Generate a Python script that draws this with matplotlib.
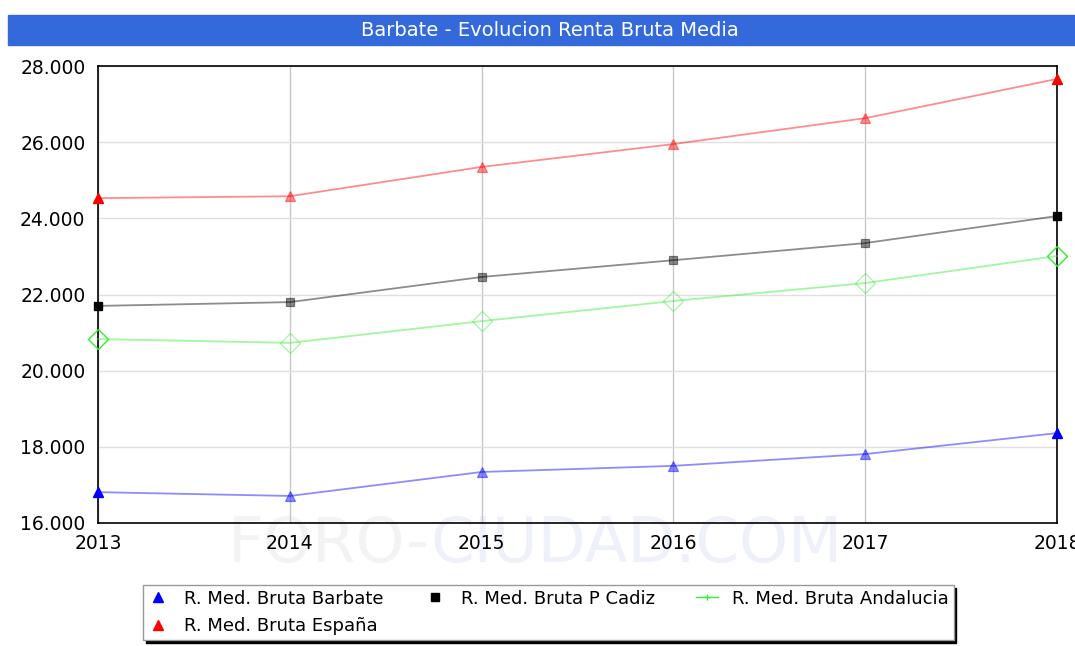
import matplotlib.pyplot as plt
from matplotlib.lines import Line2D
from matplotlib.patches import Rectangle
from matplotlib.ticker import FuncFormatter

years = [2013, 2014, 2015, 2016, 2017, 2018]
barbate = [16810, 16710, 17340, 17500, 17810, 18360]
cadiz = [21700, 21800, 22460, 22900, 23350, 24060]
andalucia = [20830, 20730, 21300, 21830, 22300, 23010]
espana = [24530, 24580, 25350, 25950, 26630, 27660]

labels = ['R. Med. Bruta Barbate', 'R. Med. Bruta P Cadiz',
          'R. Med. Bruta Andalucia', 'R. Med. Bruta España']

fig = plt.figure(figsize=(10.75, 6.46), dpi=100)

# title band
fig.patches.append(Rectangle((8/1075, 601/646), 1 - 8/1075, 30/646,
                             transform=fig.transFigure, color='#3469dc', zorder=0))
fig.text(550/1075, 615/646, 'Barbate - Evolucion Renta Bruta Media', color='white',
         ha='center', va='center', fontsize=14, family='DejaVu Sans')

# watermark, kept under the axes
fig.text(430/1075, 101/646, 'FORO-', color='#f3f3f3', ha='right', va='center',
         fontsize=45, zorder=-2)
fig.text(430/1075, 101/646, 'CIUDAD.COM', color='#eef0fa', ha='left', va='center',
         fontsize=45, zorder=-2)

ax = fig.add_axes([98/1075, 123/646, 959/1075, 457/646])
ax.set_facecolor('none')

series = [
    (barbate, 'blue', '^', 'full', 7),
    (cadiz, 'black', 's', 'full', 5.5),
    (andalucia, '#33ee33', 'D', 'none', 10),
    (espana, 'red', '^', 'full', 7),
]
for vals, col, mk, fill, size in series:
    ax.plot(years, vals, color=col, alpha=0.45, lw=1.3, marker=mk, ms=size,
            mew=0.9, fillstyle=fill, clip_on=False, zorder=3)
    ax.plot([years[0], years[-1]], [vals[0], vals[-1]], ls='none', color=col,
            marker=mk, ms=size, mew=0.9, fillstyle=fill, clip_on=False, zorder=4)

ax.set_xlim(2013, 2018)
ax.set_ylim(16000, 28000)
ax.set_xticks(years)
ax.set_yticks(range(16000, 28001, 2000))
ax.yaxis.set_major_formatter(FuncFormatter(lambda v, p: f'{int(v):,}'.replace(',', '.')))
ax.tick_params(length=0, labelsize=13.5, pad=9)
ax.tick_params(axis='x', pad=8)
ax.xaxis.grid(True, color='#c8c8c8', lw=1)
ax.yaxis.grid(True, color='#e0e0e0', lw=1)
ax.set_axisbelow(True)
for s in ax.spines.values():
    s.set_color('black')
    s.set_linewidth(1.2)

handles = [
    Line2D([], [], ls='none', color='blue', marker='^', ms=7),
    Line2D([], [], ls='none', color='red', marker='^', ms=7),
    Line2D([], [], ls='none', color='black', marker='s', ms=6),
    Line2D([], [], color='#33ee33', lw=1, marker='+', ms=5),
]
leg = fig.legend(handles, [labels[0], labels[3], labels[1], labels[2]], ncol=3,
                 loc='upper left', bbox_to_anchor=(143/1075, 61/646),
                 borderaxespad=0, fontsize=13, frameon=True, fancybox=False,
                 handlelength=1.2, columnspacing=2.3, borderpad=0.25,
                 labelspacing=0.55, shadow={'color': 'black', 'alpha': 1})
leg.get_frame().set_edgecolor('#999999')
leg.get_frame().set_linewidth(1)

fig.savefig('out.png', dpi=100)
